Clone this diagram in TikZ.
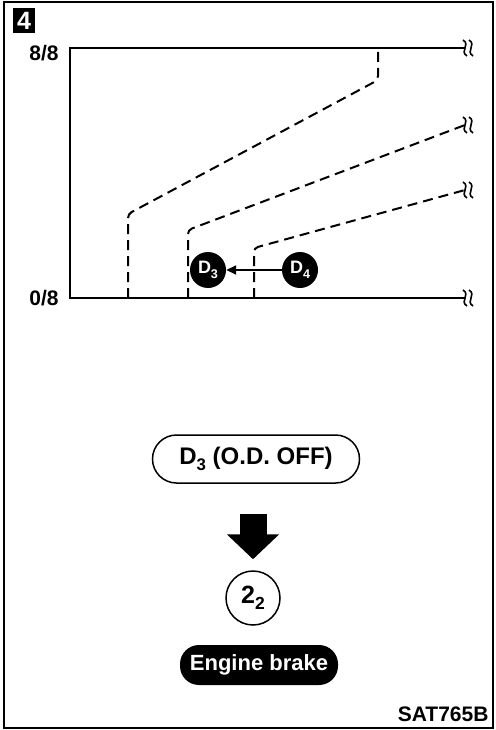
\documentclass[tikz,border=0pt]{standalone}
\usepackage{fontspec}
\setmainfont{Liberation Sans}
\usetikzlibrary{arrows.meta}
\newcommand\sub[1]{\raisebox{-0.25em}{\fontsize{0.7em}{0.7em}\selectfont#1}}
\begin{document}
\begin{tikzpicture}[x=1pt,y=-1pt,font=\bfseries,
axis/.style={line width=2.5pt},
shiftline/.style={line width=2pt,dash pattern=on 10pt off 6pt,rounded corners=4pt},
gear/.style={circle,fill=black,text=white,minimum size=36pt,inner sep=0pt,font=\bfseries\fontsize{18}{18}\selectfont},
lbl/.style={font=\bfseries\fontsize{21}{21}\selectfont},
brk/.pic={\foreach \dx in {-3,3}\draw[line width=1.6pt](\dx-2,-8)..controls(\dx+6,-3)and(\dx-6,3)..(\dx+2,8);}]
\useasboundingbox(0,0)rectangle(495,730);
\draw[line width=1.8pt](4,2)rectangle(493,728);
\node[fill=black,text=white,minimum width=22pt,minimum height=25pt,inner sep=0pt,font=\bfseries\fontsize{25}{25}\selectfont](num)at(24,21){4};
\node[lbl](full)at(44,53){8/8};
\node[lbl](zero)at(44,298){0/8};
\draw[axis](465,48)--(70,48)--(70,298)--(465,298);
% shift lines
\draw[shiftline](128,298)--(128,214)--(378,80)--(378,48);
\draw[shiftline](188,298)--(188,230)--(465,125);
\draw[shiftline](254,298)--(254,248)--(465,190);
\foreach \y in {48,125,190,298}\pic at(468,\y){brk};
\node[gear](d3)at(208,270){D\sub{3}};
\node[gear](d4)at(300,270){D\sub{4}};
\draw[line width=1.8pt,-{Triangle[length=10pt,width=9pt]}](d4)--(d3);
% result
\node[draw,line width=1.5pt,rounded corners=24pt,minimum width=207pt,minimum height=48pt,font=\bfseries\fontsize{24}{24}\selectfont](od)at(256,459){D\sub{3} (O.D. OFF)};
\node[circle,draw,line width=1.5pt,minimum size=54pt,inner sep=0pt,font=\bfseries\fontsize{25}{25}\selectfont](two)at(253,598){2\sub{2}};
\draw[line width=27pt,-{Triangle[width=51pt,length=25pt]}]([yshift=-30pt]od.south -| two.north)--([yshift=11pt]two.north);
\node[fill=black,text=white,rounded corners=19pt,minimum width=158pt,minimum height=40pt,font=\bfseries\fontsize{22}{22}\selectfont](eb)at(259,665){Engine brake};
\node[lbl,anchor=east](sat)at(492,714){SAT765B};
\end{tikzpicture}
\end{document}
